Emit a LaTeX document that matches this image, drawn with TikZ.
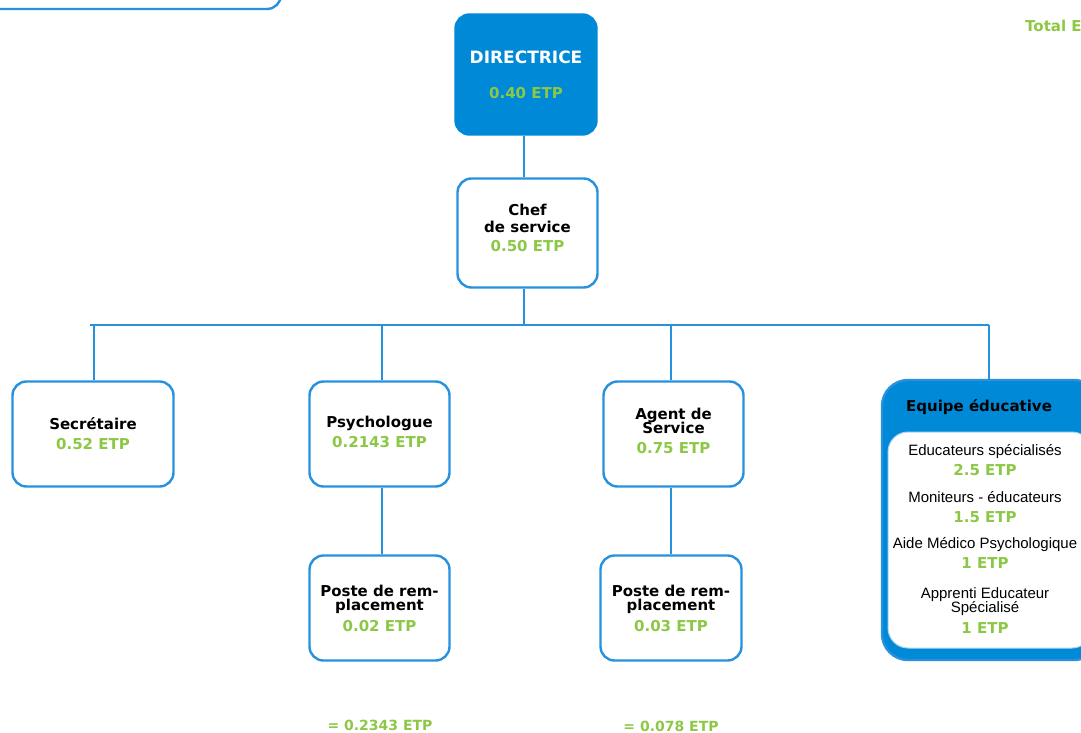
\documentclass[tikz,border=0pt]{standalone}
\usepackage{fontspec}
\setmainfont{Liberation Sans}
\newfontfamily\heavy{DejaVu Sans}
\definecolor{lineblue}{RGB}{38,146,222}
\definecolor{fillblue}{RGB}{0,137,214}
\definecolor{etpgreen}{RGB}{140,200,70}
\newcommand\etpg[1]{{\color{etpgreen}#1}}
\tikzset{
  box/.style={draw=lineblue, line width=2.4pt, rounded corners=14pt, fill=white,
    align=center, inner sep=0pt, text=black,
    font=\heavy\bfseries\fontsize{15}{17}\selectfont},
  conn/.style={draw=lineblue, line width=1.8pt},
  totals/.style={text=etpgreen, font=\heavy\bfseries\fontsize{14}{16}\selectfont, inner sep=0pt},
}
\begin{document}
\begin{tikzpicture}[x=1pt,y=-1pt]
\useasboundingbox (0,0) rectangle (1081,733);
% partial box top left
\node[box, minimum width=310, minimum height=60] (topbox) at (126,-21) {};
% total
\node[anchor=west, inner sep=0pt, text=etpgreen, font=\heavy\bfseries\fontsize{15}{17}\selectfont] (total) at (1025,26) {Total E};
% directrice
\node[box, fill=fillblue, draw=fillblue, text=white, minimum width=141, minimum height=120,
  font=\heavy\bfseries\fontsize{17}{19}\selectfont] (dir) at (526,74.5)
  {DIRECTRICE\\[16pt]{\fontsize{15}{17}\selectfont\etpg{0.40 ETP}}};
% chef
\node[box, minimum width=140, minimum height=109] (chef) at (527.5,233)
  {Chef\\de service\\[2pt]\etpg{0.50 ETP}\\[-7pt]};
% level 2
\node[box, minimum width=161, minimum height=105] (sec) at (93,434)
  {Secrétaire\\[3pt]\etpg{0.52 ETP}};
\node[box, minimum width=140, minimum height=105] (psy) at (379.5,434)
  {Psychologue\\[3pt]\etpg{0.2143 ETP}\\[-12pt]};
\node[box, minimum width=140, minimum height=105] (agent) at (673.5,434)
  {Agent de\\[-3pt]Service\\[3pt]\etpg{0.75 ETP}\\[-11pt]};
% level 3
\node[box, minimum width=140, minimum height=105] (poste1) at (379.5,608)
  {Poste de rem-\\[-3pt]placement\\[4pt]\etpg{0.02 ETP}};
\node[box, minimum width=141, minimum height=105] (poste2) at (671,608)
  {Poste de rem-\\[-3pt]placement\\[4pt]\etpg{0.03 ETP}};
% equipe educative
\node[box, fill=fillblue, draw=lineblue, rounded corners=26pt, minimum width=218, minimum height=280] (equipe) at (991,520) {};
\node[draw=lineblue!40, line width=1pt, fill=white, rounded corners=20pt, minimum width=204, minimum height=216, inner sep=0pt] (equipein) at (990,540) {};
\node[inner sep=0pt, font=\heavy\bfseries\fontsize{15}{17}\selectfont] (equipetitle) at (979,407) {Equipe éducative};
\node[inner sep=0pt, align=center, font=\fontsize{15}{20}\selectfont] (equipetext) at (985,539)
  {Educateurs spécialisés\\
   {\heavy\bfseries\etpg{2.5 ETP}}\\[7pt]
   Moniteurs - éducateurs\\
   {\heavy\bfseries\etpg{1.5 ETP}}\\[6pt]
   Aide Médico Psychologique\\
   {\heavy\bfseries\etpg{1 ETP}}\\[10pt]
   Apprenti Educateur\\[-6pt]
   Spécialisé\\[1pt]
   {\heavy\bfseries\etpg{1 ETP}}};
% connector x positions
\coordinate (xc) at (524,0);
\coordinate (xs) at (94,0);
\coordinate (xp) at (382,0);
\coordinate (xa) at (671,0);
\coordinate (xe) at (989,0);
\coordinate (hl) at (90,325);
\coordinate (hr) at (989,325);
% connectors
\draw[conn] (dir.south -| xc) -- (chef.north -| xc);
\draw[conn] (chef.south -| xc) -- (hl -| xc);
\draw[conn] (hl) -- (hr);
\draw[conn] (hl -| xs) -- (sec.north -| xs);
\draw[conn] (hl -| xp) -- (psy.north -| xp);
\draw[conn] (hl -| xa) -- (agent.north -| xa);
\draw[conn] (hr) -- (equipe.north -| xe);
\draw[conn] (psy.south -| xp) -- (poste1.north -| xp);
\draw[conn] (agent.south -| xa) -- (poste2.north -| xa);
% totals
\node[totals] (tot1) at (380,725) {= 0.2343 ETP};
\node[totals] (tot2) at (671,726) {= 0.078 ETP};
\end{tikzpicture}
\end{document}
